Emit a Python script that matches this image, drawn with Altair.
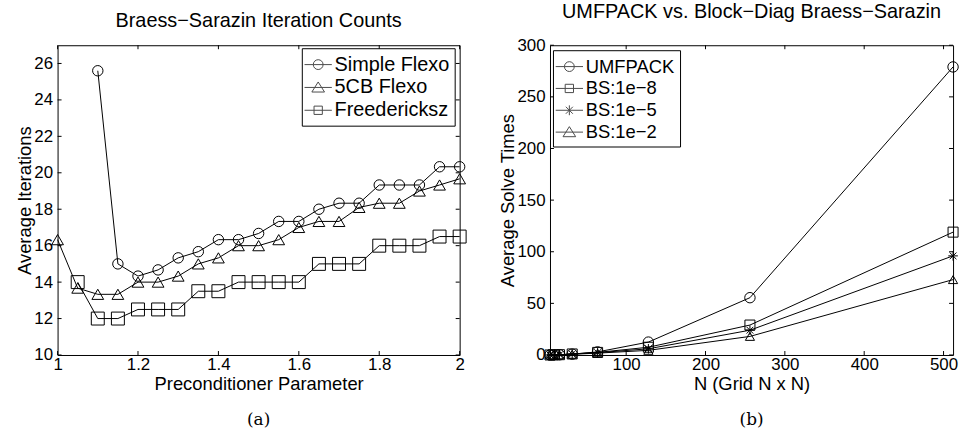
import altair as alt
import pandas as pd

FONT = "Liberation Sans"
SERIF = "DejaVu Serif"

# ---------------- Panel (a) data ----------------
param = [1.0, 1.05, 1.1, 1.15, 1.2, 1.25, 1.3, 1.35, 1.4, 1.45, 1.5,
         1.55, 1.6, 1.65, 1.7, 1.75, 1.8, 1.85, 1.9, 1.95, 2.0]
simple_flexo = [None, None, 25.6, 15.0, 14.33, 14.67, 15.33, 15.67, 16.33, 16.33, 16.67,
                17.33, 17.33, 18.0, 18.33, 18.33, 19.33, 19.33, 19.33, 20.33, 20.33]
cb5_flexo = [16.33, 13.67, 13.33, 13.33, 14.0, 14.0, 14.33, 15.0, 15.33, 16.0, 16.0,
             16.33, 17.0, 17.33, 17.33, 18.1, 18.33, 18.33, 19.0, 19.33, 19.67]
freedericksz = [None, 14.0, 12.0, 12.0, 12.5, 12.5, 12.5, 13.5, 13.5, 14.0, 14.0,
                14.0, 14.0, 15.0, 15.0, 15.0, 16.0, 16.0, 16.0, 16.5, 16.5]
series_a = ["Simple Flexo", "5CB Flexo", "Freedericksz"]
a_xticks = [1.0, 1.2, 1.4, 1.6, 1.8, 2.0]
a_yticks = [10, 12, 14, 16, 18, 20, 22, 24, 26]

# ---------------- Panel (b) data ----------------
grid_n = [4, 8, 16, 32, 64, 128, 256, 512]
umfpack = [0.01, 0.05, 0.2, 0.8, 3.0, 12.5, 55.5, 279.0]
bs_1e8 = [0.02, 0.1, 0.3, 1.0, 2.5, 7.5, 29.0, 119.0]
bs_1e5 = [0.02, 0.08, 0.25, 0.9, 2.2, 6.0, 24.0, 96.0]
bs_1e2 = [0.01, 0.06, 0.2, 0.7, 1.8, 4.5, 18.0, 73.0]
series_b = ["UMFPACK", "BS:1e\u22128", "BS:1e\u22125", "BS:1e\u22122"]
b_xticks = [100, 200, 300, 400, 500]
b_yticks = [0, 50, 100, 150, 200, 250, 300]

# ---------------- marker shapes ----------------
ASTER = "M-1,0L1,0M0,-1L0,1M-0.7,-0.7L0.7,0.7M-0.7,0.7L0.7,-0.7"
LEG_CIRCLE = "M-1.25,0L1.25,0M0.45,0A0.45 0.45 0 1 1 -0.45 0A0.45 0.45 0 1 1 0.45 0"
LEG_SQUARE = "M-1.25,0L1.25,0M-0.38,-0.38L0.38,-0.38L0.38,0.38L-0.38,0.38Z"
LEG_ASTER = "M-1.25,0L1.25,0M0,-0.45L0,0.45M-0.32,-0.32L0.32,0.32M-0.32,0.32L0.32,-0.32"
LEG_TRI = "M-1.25,0L1.25,0M0,-0.5L0.58,0.42L-0.58,0.42Z"

H = 312


def long_df(xs, cols, names):
    rows = []
    for name, col in zip(names, cols):
        for x, y in zip(xs, col):
            if y is not None:
                rows.append({"x": x, "y": y, "series": name})
    return pd.DataFrame(rows)


def panel(df, series, shapes, sizes, leg_shapes, xdom, ydom, xticks, yticks,
          xfmt, title, xtitle, ytitle, caption, leg_x, leg_y, leg_font, width):
    xs = alt.Scale(domain=xdom, nice=False, zero=False)
    ys = alt.Scale(domain=ydom, nice=False, zero=False)
    common = dict(ticks=False, domain=False, grid=False, labelFontSize=17,
                  titleFontSize=18.5, titleFontWeight="normal", labelFont=FONT,
                  titleFont=FONT, labelColor="black", titleColor="black",
                  labelFlush=False, labelOverlap=False)
    xaxis = alt.Axis(values=xticks, format=xfmt, title=xtitle, labelPadding=2,
                     titlePadding=2, **common)
    yaxis = alt.Axis(values=yticks, title=ytitle, labelPadding=5, titlePadding=-1, **common)

    def X():
        return alt.X("x:Q", scale=xs, axis=xaxis)

    def Y():
        return alt.Y("y:Q", scale=ys, axis=yaxis)

    base = alt.Chart(df)
    lines = base.mark_line(color="black", strokeWidth=1).encode(
        x=X(), y=Y(), detail="series:N",
    )
    pts = base.mark_point(filled=False, color="black", strokeWidth=1, opacity=1).encode(
        x=X(), y=Y(),
        shape=alt.Shape("series:N", scale=alt.Scale(domain=series, range=shapes), legend=None),
        size=alt.Size("series:N", scale=alt.Scale(domain=series, range=sizes), legend=None),
    )
    leg = base.mark_point(filled=False, color="black", strokeWidth=1).encode(
        x=X(), y=Y(),
        shape=alt.Shape("series:N", scale=alt.Scale(domain=series, range=leg_shapes),
                        legend=alt.Legend(title=None, orient="none", legendX=leg_x,
                                          legendY=leg_y,
                                          strokeColor="black", fillColor="white",
                                          padding=5, labelFontSize=leg_font, labelFont=FONT,
                                          labelColor="black", symbolStrokeColor="black",
                                          symbolFillColor="transparent",
                                          symbolStrokeWidth=1, symbolSize=484,
                                          labelOffset=5, rowPadding=1,
                                          cornerRadius=0, labelLimit=300)),
    ).transform_filter("false")

    xt = pd.DataFrame({"x": xticks})
    yt = pd.DataFrame({"y": yticks})
    tb = alt.Chart(xt).mark_rule(color="black", strokeWidth=1).encode(
        x=X(), y=alt.value(H), y2=alt.value(H - 4))
    tt = alt.Chart(xt).mark_rule(color="black", strokeWidth=1).encode(
        x=X(), y=alt.value(0), y2=alt.value(4))
    tl = alt.Chart(yt).mark_rule(color="black", strokeWidth=1).encode(
        y=Y(), x=alt.value(0), x2=alt.value(4))
    tr = alt.Chart(yt).mark_rule(color="black", strokeWidth=1).encode(
        y=Y(), x=alt.value(width), x2=alt.value(width - 4))
    cap = alt.Chart(pd.DataFrame({"t": [caption]})).mark_text(
        font=SERIF, fontSize=17, color="black", baseline="middle", align="center"
    ).encode(text="t:N", x=alt.value(width / 2), y=alt.value(H + 66))

    return alt.layer(lines, pts, leg, tb, tt, tl, tr, cap).resolve_scale(
        shape="independent", size="independent"
    ).properties(
        width=width, height=H,
        title=alt.Title(title, fontSize=20, font=FONT, fontWeight="normal",
                        color="black", offset=14),
    )


df_a = long_df(param, [simple_flexo, cb5_flexo, freedericksz], series_a)
df_b = long_df(grid_n, [umfpack, bs_1e8, bs_1e5, bs_1e2], series_b)

pa = panel(df_a, series_a, ["circle", "triangle-up", "square"], [110, 170, 85],
           [LEG_CIRCLE, LEG_TRI, LEG_SQUARE], [1, 2], [10, 27], a_xticks, a_yticks,
           "~g", "Braess\u2212Sarazin Iteration Counts", "Preconditioner Parameter",
           "Average Iterations", "(a)", 246, 3, 20, 405)
pb = panel(df_b, series_b, ["circle", "square", ASTER, "triangle-up"], [110, 85, 100, 170],
           [LEG_CIRCLE, LEG_SQUARE, LEG_ASTER, LEG_TRI], [4, 512], [0, 300], b_xticks, b_yticks,
           "d", "UMFPACK vs. Block\u2212Diag Braess\u2212Sarazin", "N (Grid N x N)",
           "Average Solve Times", "(b)", 3, 5, 18.5, 406)

chart = alt.hconcat(pa, pb, spacing=91, bounds="flush").properties(
    padding={"left": 15, "top": 0, "right": 0, "bottom": 2},
    background="white",
).configure_view(stroke="black", strokeWidth=1)

chart.save("out.html", embed_options={"renderer": "svg", "actions": False})
